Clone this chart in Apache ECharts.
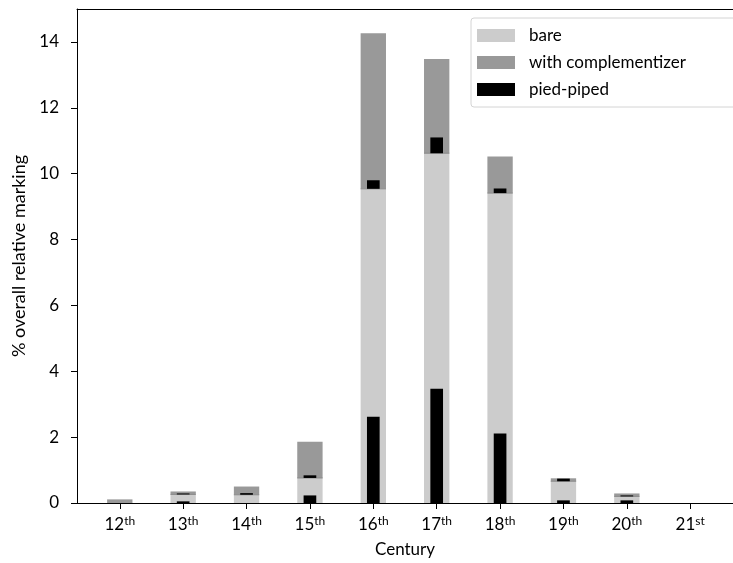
<!DOCTYPE html>
<html>
<head>
<meta charset="utf-8">
<script src="https://cdn.jsdelivr.net/npm/echarts@6/dist/echarts.min.js"></script>
<style>
html,body{margin:0;padding:0;background:#fff;}
#chart{width:733px;height:563px;}
</style>
</head>
<body>
<div id="chart"></div>
<script>
// Data
const centuries = ['12', '13', '14', '15', '16', '17', '18', '19', '20', '21'];
const suffixes = ['th', 'th', 'th', 'th', 'th', 'th', 'th', 'th', 'th', 'st'];
const bare = [0, 0.26, 0.25, 0.76, 9.54, 10.62, 9.41, 0.66, 0.20, 0];
const withComplementizer = [0.11, 0.09, 0.25, 1.10, 4.72, 2.86, 1.11, 0.09, 0.09, 0];
const piedPipedBare = [0, 0.05, 0, 0.23, 2.62, 3.47, 2.11, 0.08, 0.08, 0];
const piedPipedComp = [0, 0.03, 0.05, 0.08, 0.26, 0.48, 0.14, 0.08, 0.03, 0];
const yTicks = [0, 2, 4, 6, 8, 10, 12, 14];

const FONT = 'Lato';
const COLORS = { bare: '#cccccc', comp: '#999999', pied: '#000000', seam: '#8a8a8a' };
const pos = centuries.map((c, i) => i);
const rows = pos.map(i => [pos[i], bare[i], withComplementizer[i], piedPipedBare[i], piedPipedComp[i]]);

function rect(x0, x1, yA, yB, color) {
  const top = Math.min(yA, yB), h = Math.abs(yA - yB);
  return { type: 'rect', shape: { x: x0, y: top, width: x1 - x0, height: h }, style: { fill: color } };
}

function renderItem(params, api) {
  const x = api.value(0), b = api.value(1), c = api.value(2), pb = api.value(3), pc = api.value(4);
  const wide = api.size([0.4, 0])[0];
  const narrow = api.size([0.2, 0])[0];
  const base = api.coord([x, 0]);
  const yB = api.coord([x, b])[1];
  const yC = api.coord([x, b + c])[1];
  const yPB = api.coord([x, pb])[1];
  const yPC = api.coord([x, b + pc])[1];
  const cx = base[0];
  const children = [];
  if (b > 0) children.push(rect(cx - wide / 2, cx + wide / 2, base[1], yB, COLORS.bare));
  if (c > 0) children.push(rect(cx - wide / 2, cx + wide / 2, yB, yC, COLORS.comp));
  if (b > 0 && c > 0) children.push({
    type: 'line',
    shape: { x1: cx - wide / 2, y1: yB, x2: cx + wide / 2, y2: yB },
    style: { stroke: COLORS.seam, lineWidth: 1 }
  });
  if (pb > 0) children.push(rect(cx - narrow / 2, cx + narrow / 2, base[1], yPB, COLORS.pied));
  if (pc > 0) children.push(rect(cx - narrow / 2, cx + narrow / 2, yB, yPC, COLORS.pied));
  return { type: 'group', children: children };
}

const xCommon = { type: 'value', min: -0.675, max: 9.675, splitLine: { show: false } };

const chart = echarts.init(document.getElementById('chart'));
chart.setOption({
  animation: false,
  backgroundColor: '#fff',
  textStyle: { fontFamily: FONT },
  grid: { left: 77, top: 9, width: 667, bottom: 57 },
  legend: {
    orient: 'vertical',
    left: 471,
    top: 18,
    data: ['bare', 'with complementizer', 'pied-piped'],
    icon: 'rect',
    itemWidth: 38,
    itemHeight: 13,
    itemGap: 10,
    padding: [9, 60, 9, 6],
    backgroundColor: 'rgba(255,255,255,0.8)',
    borderColor: '#d4d4d4',
    borderWidth: 1,
    borderRadius: 3,
    selectedMode: false,
    textStyle: { fontFamily: FONT, fontSize: 17, color: '#000', padding: [0, 0, 0, 9] }
  },
  xAxis: [
    Object.assign({}, xCommon, {
      position: 'bottom',
      name: 'Century',
      nameLocation: 'middle',
      nameGap: 38,
      nameTextStyle: { fontFamily: FONT, fontSize: 17, color: '#000', verticalAlign: 'top' },
      axisLine: { show: true, onZero: false, lineStyle: { color: '#000', width: 1 } },
      axisTick: { show: true, length: 6, lineStyle: { color: '#000' }, customValues: pos },
      axisLabel: {
        show: true,
        margin: 12,
        customValues: pos,
        formatter: function (v) {
          const i = Math.round(v);
          return '{n|' + centuries[i] + '}{s|' + suffixes[i] + '}';
        },
        rich: {
          n: { fontFamily: FONT, fontSize: 17, color: '#000', lineHeight: 19 },
          s: { fontFamily: FONT, fontSize: 12, color: '#000', verticalAlign: 'top', lineHeight: 12 }
        }
      }
    }),
    Object.assign({}, xCommon, {
      position: 'top',
      axisLine: { show: true, onZero: false, lineStyle: { color: '#000', width: 1 } },
      axisTick: { show: false },
      axisLabel: { show: false }
    })
  ],
  yAxis: {
    type: 'value',
    min: 0,
    max: 15,
    name: '% overall relative marking',
    nameLocation: 'middle',
    nameGap: 44,
    nameTextStyle: { fontFamily: FONT, fontSize: 18, color: '#000' },
    splitLine: { show: false },
    axisLine: { show: true, onZero: false, lineStyle: { color: '#000', width: 1 } },
    axisTick: { show: true, length: 6, lineStyle: { color: '#000' }, customValues: yTicks },
    axisLabel: { fontFamily: FONT, fontSize: 17, color: '#000', margin: 18, customValues: yTicks }
  },
  series: [
    { name: 'bare', type: 'bar', data: [], itemStyle: { color: COLORS.bare } },
    { name: 'with complementizer', type: 'bar', data: [], itemStyle: { color: COLORS.comp } },
    { name: 'pied-piped', type: 'bar', data: [], itemStyle: { color: COLORS.pied } },
    {
      name: 'bars',
      type: 'custom',
      xAxisIndex: 0,
      yAxisIndex: 0,
      renderItem: renderItem,
      encode: { x: 0, y: [1, 2] },
      data: rows
    }
  ]
});
</script>
</body>
</html>
